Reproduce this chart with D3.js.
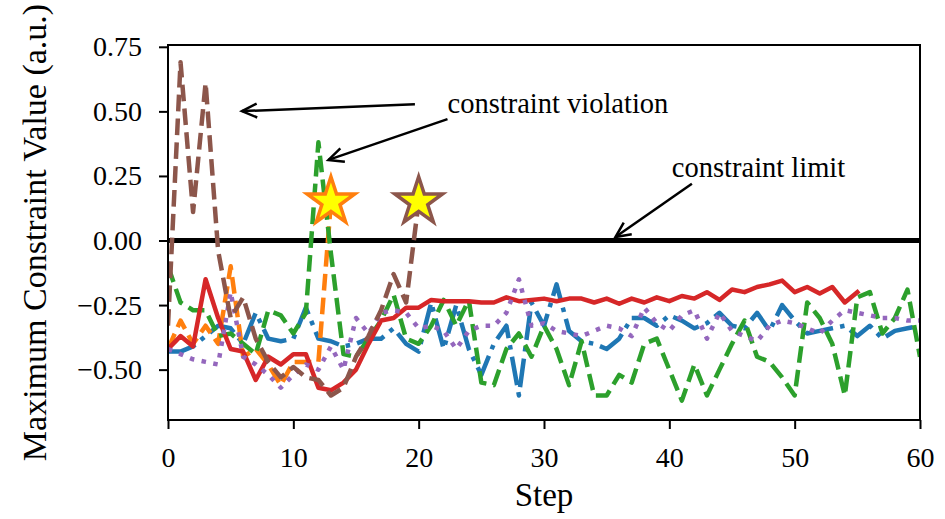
<!DOCTYPE html>
<html><head><meta charset="utf-8">
<script src="https://cdnjs.cloudflare.com/ajax/libs/d3/7.8.5/d3.min.js"></script>
<style>
body{margin:0;background:#fff}
svg{display:block}
text{font-family:"Liberation Serif","Times New Roman",serif;fill:#000}
</style>
</head><body>
<svg id="c" width="945" height="519"></svg>
<script>
// ---------------- data ----------------
const blueVals = [-0.43,-0.43,-0.41,-0.37,-0.33,-0.34,-0.40,-0.28,-0.38,-0.39,-0.38,-0.26,-0.38,-0.39,-0.41,-0.40,-0.38,-0.38,-0.34,-0.40,-0.43,-0.24,-0.42,-0.25,-0.42,-0.52,-0.40,-0.33,-0.60,-0.24,-0.33,-0.17,-0.35,-0.39,-0.40,-0.42,-0.38,-0.30,-0.30,-0.33,-0.29,-0.31,-0.34,-0.32,-0.28,-0.33,-0.34,-0.28,-0.35,-0.25,-0.31,-0.36,-0.35,-0.34,-0.33,-0.37,-0.33,-0.38,-0.35,-0.34,-0.33];
const orangeVals = [-0.42,-0.31,-0.40,-0.33,-0.40,-0.10,-0.45,-0.42,-0.48,-0.56,-0.47,-0.47,-0.47,0.15];
const greenVals = [-0.10,-0.24,-0.27,-0.27,-0.37,-0.36,-0.40,-0.44,-0.27,-0.29,-0.36,-0.28,0.38,-0.05,-0.44,-0.45,-0.38,-0.31,-0.21,-0.38,-0.40,-0.33,-0.23,-0.33,-0.23,-0.55,-0.56,-0.42,-0.36,-0.45,-0.33,-0.42,-0.56,-0.39,-0.60,-0.60,-0.52,-0.55,-0.40,-0.38,-0.50,-0.62,-0.48,-0.60,-0.50,-0.40,-0.31,-0.45,-0.47,-0.53,-0.60,-0.24,-0.30,-0.40,-0.60,-0.22,-0.20,-0.36,-0.30,-0.19,-0.45];
const redVals = [-0.42,-0.37,-0.41,-0.15,-0.30,-0.42,-0.43,-0.54,-0.45,-0.48,-0.44,-0.44,-0.57,-0.58,-0.55,-0.50,-0.40,-0.31,-0.30,-0.26,-0.26,-0.23,-0.235,-0.235,-0.235,-0.24,-0.24,-0.22,-0.235,-0.23,-0.225,-0.235,-0.225,-0.225,-0.24,-0.225,-0.245,-0.225,-0.24,-0.22,-0.235,-0.215,-0.225,-0.20,-0.23,-0.19,-0.20,-0.18,-0.17,-0.155,-0.20,-0.18,-0.205,-0.18,-0.24,-0.20];
const purpleVals = [-0.42,-0.44,-0.46,-0.47,-0.48,-0.20,-0.45,-0.48,-0.52,-0.57,-0.52,-0.48,-0.50,-0.41,-0.50,-0.30,-0.36,-0.28,-0.27,-0.28,-0.34,-0.33,-0.35,-0.42,-0.35,-0.33,-0.33,-0.28,-0.15,-0.33,-0.32,-0.35,-0.36,-0.37,-0.35,-0.33,-0.34,-0.37,-0.26,-0.32,-0.35,-0.29,-0.27,-0.38,-0.28,-0.35,-0.37,-0.39,-0.33,-0.31,-0.32,-0.34,-0.36,-0.31,-0.27,-0.28,-0.29,-0.30,-0.30,-0.31,-0.31];
const brownVals = [-0.33,0.69,0.11,0.61,-0.04,-0.30,-0.22,-0.38,-0.47,-0.53,-0.49,-0.53,-0.54,-0.60,-0.57,-0.45,-0.37,-0.27,-0.13,-0.24,0.15];

const starSteps = [13, 20];
const starValues = [0.15, 0.15];

const xTicks = [0,10,20,30,40,50,60];
const xTickLabels = ["0","10","20","30","40","50","60"];
const yTicks = [-0.5,-0.25,0,0.25,0.5,0.75];
const yTickLabels = ["\u22120.50","\u22120.25","0.00","0.25","0.50","0.75"];

const limitValue = 0;
const annoTexts = ["constraint violation", "constraint limit"];

// ---------------- layout ----------------
const W = 945, H = 519;
const M = {left:168, right:25, top:45, bottom:99};
const svg = d3.select("#c");
const x = d3.scaleLinear().domain([0,60]).range([M.left, W-M.right]);
const y = d3.scaleLinear().domain([-0.695,0.757]).range([H-M.bottom, M.top]);

const LW = 4.5;
const seriesDefs = [
  {vals: blueVals,   color:"#1f77b4", dash:[6.4*LW,1.6*LW,1*LW,1.6*LW], cap:"butt"},
  {vals: orangeVals, color:"#ff7f0e", dash:[3.7*LW,1.6*LW], cap:"butt"},
  {vals: greenVals,  color:"#2ca02c", dash:[3.7*LW,1.6*LW], cap:"butt"},
  {vals: redVals,    color:"#d62728", dash:null, cap:"square"},
  {vals: purpleVals, color:"#9467bd", dash:[1*LW,1.65*LW], cap:"butt"},
  {vals: brownVals,  color:"#8c564b", dash:[3.7*LW,1.6*LW], cap:"butt"}
];

svg.append("defs").append("clipPath").attr("id","plotclip")
  .append("rect").attr("x",M.left).attr("y",M.top)
  .attr("width",W-M.left-M.right).attr("height",H-M.top-M.bottom);

const plot = svg.append("g").attr("clip-path","url(#plotclip)");

// constraint limit line
plot.append("line")
  .attr("x1",x(0)).attr("x2",x(60)).attr("y1",y(limitValue)).attr("y2",y(limitValue))
  .attr("stroke","#000").attr("stroke-width",5);

const line = d3.line().x((d,i)=>x(i)).y(d=>y(d));
seriesDefs.forEach(s=>{
  plot.append("path").datum(s.vals)
    .attr("d",line)
    .attr("fill","none")
    .attr("stroke",s.color)
    .attr("stroke-width",LW)
    .attr("stroke-linejoin","round")
    .attr("stroke-linecap",s.cap)
    .attr("stroke-dasharray", s.dash ? s.dash.join(",") : null);
});

// stars
const starEdge = ["#ff7f0e","#8c564b"];
function starPath(R){
  const r = R*0.381966; const pts=[];
  for(let k=0;k<10;k++){
    const a = -Math.PI/2 + k*Math.PI/5;
    const rr = k%2===0?R:r;
    pts.push([rr*Math.cos(a), rr*Math.sin(a)]);
  }
  return "M"+pts.map(p=>p[0].toFixed(2)+","+p[1].toFixed(2)).join("L")+"Z";
}
starSteps.forEach((s,i)=>{
  svg.append("path").attr("d",starPath(25))
    .attr("transform",`translate(${x(s)},${y(starValues[i])})`)
    .attr("fill","#ffff00").attr("stroke",starEdge[i]).attr("stroke-width",3.5)
    .attr("stroke-linejoin","miter");
});

// frame
svg.append("rect").attr("x",M.left).attr("y",M.top)
  .attr("width",W-M.left-M.right).attr("height",H-M.top-M.bottom)
  .attr("fill","none").attr("stroke","#000").attr("stroke-width",2);

// axes
const xAxis = d3.axisBottom(x).tickValues(xTicks).tickFormat((d,i)=>xTickLabels[i]).tickSize(9).tickPadding(18);
const gx = svg.append("g").attr("transform",`translate(0,${H-M.bottom})`).call(xAxis);
const yAxis = d3.axisLeft(y).tickValues(yTicks).tickFormat((d,i)=>yTickLabels[i]).tickSize(9).tickPadding(17);
const gy = svg.append("g").attr("transform",`translate(${M.left},0)`).call(yAxis);
[gx,gy].forEach(g=>{
  g.select(".domain").remove();
  g.selectAll(".tick line").attr("stroke","#000").attr("stroke-width",2);
  g.selectAll(".tick text").attr("font-family","Liberation Serif, serif").attr("font-size",28).attr("fill","#000");
});

// axis labels
svg.append("text").attr("x",(M.left+W-M.right)/2).attr("y",506)
  .attr("text-anchor","middle").attr("font-size",33).text("Step");
svg.append("text").attr("transform",`translate(46,${(M.top+H-M.bottom)/2}) rotate(-90)`)
  .attr("text-anchor","middle").attr("font-size",34).text("Maximum Constraint Value (a.u.)");

// annotations
function arrow(x1,y1,x2,y2){
  svg.append("line").attr("x1",x1).attr("y1",y1).attr("x2",x2).attr("y2",y2)
    .attr("stroke","#000").attr("stroke-width",2.5);
  const ang = Math.atan2(y2-y1,x2-x1);
  const L=15, Wd=7;
  const bx = x2 - L*Math.cos(ang), by = y2 - L*Math.sin(ang);
  const px = -Math.sin(ang)*Wd, py = Math.cos(ang)*Wd;
  svg.append("path").attr("d",`M${bx+px},${by+py}L${x2},${y2}L${bx-px},${by-py}`)
    .attr("fill","none").attr("stroke","#000").attr("stroke-width",2.5).attr("stroke-linejoin","miter");
}
svg.append("text").attr("x",x(22.3)).attr("y",y(0.532)+10).attr("font-size",28.5).text(annoTexts[0]);
svg.append("text").attr("x",x(40.2)).attr("y",y(0.284)+10).attr("font-size",28.5).text(annoTexts[1]);
arrow(x(19.7),y(0.528),x(5.9),y(0.501));
arrow(x(22.3),y(0.47),x(12.8),y(0.312));
arrow(x(41.8),y(0.22),x(35.7),y(0.0135));
</script>
</body></html>
